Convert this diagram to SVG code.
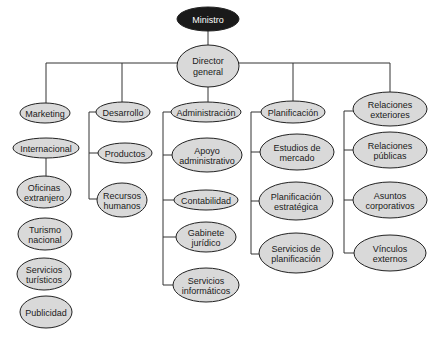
<svg xmlns="http://www.w3.org/2000/svg" width="442" height="342" viewBox="0 0 442 342">
<style>
.bg{fill:#ffffff}
.n ellipse{fill:#d9d9d9;stroke:#222;stroke-width:1}
.n text{font-family:"Liberation Sans",Arial,sans-serif;font-size:9px;fill:#1a1a1a;text-anchor:middle}
#ministro ellipse{fill:#1a1a1a}
#ministro text{fill:#ffffff}
.c path{fill:none;stroke:#333;stroke-width:1}
</style>
<rect class="bg" x="0" y="0" width="442" height="342"/>
<g class="c" id="connectors">
<path d="M208,31 V45"/>
<path d="M46,63 H390"/>
<path d="M208,87 V102"/>
<path d="M46,63 V103"/>
<path d="M122,63 V102"/>
<path d="M293,63 V101"/>
<path d="M390,63 V93"/>
<path d="M96,112 H89 V199 H98"/>
<path d="M89,153 H98"/>
<path d="M171,112 H163 V285 H173"/>
<path d="M163,155 H172"/>
<path d="M163,200 H174"/>
<path d="M163,237 H176"/>
<path d="M262,112 H251 V254 H259"/>
<path d="M251,152 H260"/>
<path d="M251,201 H259"/>
<path d="M353,111 H344 V253 H354"/>
<path d="M344,150 H353"/>
<path d="M344,200 H353"/>
<path d="M46,158 V177"/>
</g>
<g class="n" id="ministro"><ellipse cx="208" cy="19" rx="31" ry="12"/><text x="208" y="22.5">Ministro</text></g>
<g class="n" id="director"><ellipse cx="208" cy="66" rx="31" ry="21"/><text x="208" y="64">Director</text><text x="208" y="75">general</text></g>
<g class="n" id="marketing"><ellipse cx="45" cy="113" rx="25" ry="10"/><text x="45" y="116.5">Marketing</text></g>
<g class="n" id="desarrollo"><ellipse cx="123" cy="112" rx="27" ry="10"/><text x="123" y="115.5">Desarrollo</text></g>
<g class="n" id="administracion"><ellipse cx="206" cy="112" rx="35" ry="10"/><text x="206" y="115.5">Administración</text></g>
<g class="n" id="planificacion"><ellipse cx="293" cy="112" rx="32" ry="11"/><text x="293" y="115.5">Planificación</text></g>
<g class="n" id="relaciones-exteriores"><ellipse cx="390" cy="109" rx="37" ry="17"/><text x="390" y="108">Relaciones</text><text x="390" y="118">exteriores</text></g>
<g class="n" id="internacional"><ellipse cx="46" cy="148" rx="33" ry="10"/><text x="46" y="151.5">Internacional</text></g>
<g class="n" id="oficinas"><ellipse cx="44" cy="192" rx="27" ry="16"/><text x="44" y="191">Oficinas</text><text x="44" y="201">extranjero</text></g>
<g class="n" id="turismo"><ellipse cx="45" cy="234" rx="27" ry="16"/><text x="45" y="233">Turismo</text><text x="45" y="243">nacional</text></g>
<g class="n" id="servicios-turisticos"><ellipse cx="44" cy="274" rx="27" ry="16"/><text x="44" y="273">Servicios</text><text x="44" y="283">turísticos</text></g>
<g class="n" id="publicidad"><ellipse cx="46" cy="312" rx="26" ry="16"/><text x="46" y="315.5">Publicidad</text></g>
<g class="n" id="productos"><ellipse cx="125" cy="153" rx="27" ry="10"/><text x="125" y="156.5">Productos</text></g>
<g class="n" id="recursos"><ellipse cx="122" cy="200" rx="25" ry="17"/><text x="122" y="199">Recursos</text><text x="122" y="209">humanos</text></g>
<g class="n" id="apoyo"><ellipse cx="207" cy="155" rx="35" ry="17"/><text x="207" y="154">Apoyo</text><text x="207" y="164">administrativo</text></g>
<g class="n" id="contabilidad"><ellipse cx="206" cy="200" rx="32" ry="10"/><text x="206" y="203.5">Contabilidad</text></g>
<g class="n" id="gabinete"><ellipse cx="206" cy="237" rx="30" ry="15"/><text x="206" y="236">Gabinete</text><text x="206" y="246">jurídico</text></g>
<g class="n" id="servicios-informaticos"><ellipse cx="206" cy="285" rx="33" ry="17"/><text x="206" y="284">Servicios</text><text x="206" y="294">informáticos</text></g>
<g class="n" id="estudios"><ellipse cx="297" cy="152" rx="37" ry="18"/><text x="297" y="151">Estudios de</text><text x="297" y="161">mercado</text></g>
<g class="n" id="planificacion-estrategica"><ellipse cx="296" cy="201" rx="37" ry="19"/><text x="296" y="200">Planificación</text><text x="296" y="210">estratégica</text></g>
<g class="n" id="servicios-planificacion"><ellipse cx="296" cy="253" rx="37" ry="20"/><text x="296" y="252">Servicios de</text><text x="296" y="262">planificación</text></g>
<g class="n" id="relaciones-publicas"><ellipse cx="390" cy="150" rx="37" ry="18"/><text x="390" y="149">Relaciones</text><text x="390" y="159">públicas</text></g>
<g class="n" id="asuntos"><ellipse cx="390" cy="200" rx="37" ry="18"/><text x="390" y="199">Asuntos</text><text x="390" y="209">corporativos</text></g>
<g class="n" id="vinculos"><ellipse cx="390" cy="253" rx="36" ry="18"/><text x="390" y="252">Vínculos</text><text x="390" y="262">externos</text></g>
</svg>
